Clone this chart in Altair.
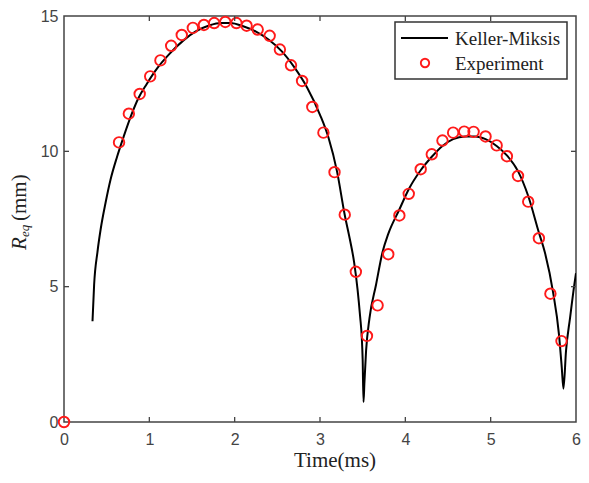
import altair as alt
import pandas as pd

# Keller-Miksis model curve (time in ms, radius in mm)
km_t = [0.334, 0.353, 0.392, 0.43, 0.487, 0.545, 0.622, 0.70, 0.795, 0.87, 0.968, 1.10,
        1.236, 1.40, 1.544, 1.70, 1.85, 1.95, 2.10, 2.25, 2.40, 2.55, 2.70, 2.85, 3.00,
        3.10, 3.20, 3.29, 3.35, 3.40, 3.44, 3.47, 3.49, 3.50, 3.51,
        3.52, 3.54, 3.58, 3.656, 3.733, 3.80, 3.93, 4.04, 4.18, 4.31, 4.435, 4.56, 4.70,
        4.82, 4.94, 5.07, 5.19, 5.32, 5.44, 5.565, 5.634, 5.73, 5.80, 5.833, 5.853,
        5.883, 5.93, 5.98, 6.00]
km_r = [3.72, 5.07, 6.28, 7.13, 8.10, 8.95, 9.80, 10.55, 11.39, 11.95, 12.48, 13.10,
        13.60, 14.10, 14.43, 14.65, 14.74, 14.74, 14.62, 14.42, 14.12, 13.70, 13.10, 12.35, 11.35,
        10.50, 9.25, 7.65, 6.75, 5.90, 4.90, 3.90, 3.10, 2.30, 0.74,
        1.42, 2.63, 3.84, 5.06, 6.28, 6.95, 7.85, 8.60, 9.30, 9.80, 10.20, 10.45, 10.55,
        10.55, 10.45, 10.20, 9.85, 9.27, 8.35, 7.00, 6.28, 4.82, 3.25, 2.02, 1.23,
        2.63, 3.84, 5.07, 5.50]

# Experimental measurements
exp_t = [0.0, 0.645, 0.76, 0.887, 1.01, 1.13, 1.256, 1.38, 1.51, 1.64, 1.76, 1.89,
         2.02, 2.14, 2.27, 2.41, 2.53, 2.66, 2.79, 2.91, 3.04, 3.17, 3.29, 3.42, 3.55,
         3.675, 3.80, 3.93, 4.04, 4.18, 4.31, 4.435, 4.56, 4.69, 4.80, 4.94, 5.07,
         5.19, 5.32, 5.44, 5.565, 5.70, 5.83]
exp_r = [0.0, 10.33, 11.39, 12.12, 12.77, 13.36, 13.90, 14.30, 14.56, 14.67, 14.74, 14.78,
         14.74, 14.64, 14.50, 14.27, 13.76, 13.18, 12.60, 11.64, 10.69, 9.23, 7.66, 5.55, 3.18,
         4.31, 6.20, 7.63, 8.43, 9.34, 9.89, 10.40, 10.69, 10.73, 10.72, 10.55, 10.22,
         9.82, 9.09, 8.14, 6.79, 4.74, 2.99]

x_ticks = [0, 1, 2, 3, 4, 5, 6]
y_ticks = [0, 5, 10, 15]
legend_labels = ["Keller-Miksis", "Experiment"]
x_title = "Time(ms)"
y_title_parts = ["R", "eq", "(mm)"]

W, H = 512, 406
FRAME = "#444444"

km = pd.DataFrame({"t": km_t, "r": km_r})
ex = pd.DataFrame({"t": exp_t, "r": exp_r})

xs = alt.Scale(domain=[0, 6], nice=False, zero=False)
ys = alt.Scale(domain=[0, 15], nice=False, zero=False)

xax = alt.Axis(values=x_ticks, ticks=False, domain=False, grid=False,
               labelFont="Liberation Sans", labelFontSize=16, labelColor="#444444",
               labelPadding=9, title=None, labelFlush=False)
yax = alt.Axis(values=y_ticks, ticks=False, domain=False, grid=False,
               labelFont="Liberation Sans", labelFontSize=16, labelColor="#444444",
               labelPadding=6, title=None, labelFlush=False)

line = alt.Chart(km).mark_line(color="black", strokeWidth=2, interpolate="monotone", clip=True).encode(
    x=alt.X("t:Q", scale=xs, axis=xax),
    y=alt.Y("r:Q", scale=ys, axis=yax),
)

pts = alt.Chart(ex).mark_point(shape="circle", filled=False, color="#ff1a1a", size=110,
                               strokeWidth=1.9, opacity=1).encode(
    x=alt.X("t:Q", scale=xs, axis=xax),
    y=alt.Y("r:Q", scale=ys, axis=yax),
)

inner_x = pd.DataFrame({"t": x_ticks[1:-1]})
inner_y = pd.DataFrame({"r": y_ticks[1:-1]})

tick_b = alt.Chart(inner_x).mark_rule(color=FRAME, strokeWidth=1.3).encode(
    x=alt.X("t:Q", scale=xs, axis=xax), y=alt.value(H), y2=alt.value(H - 5))
tick_t = alt.Chart(inner_x).mark_rule(color=FRAME, strokeWidth=1.3).encode(
    x=alt.X("t:Q", scale=xs, axis=xax), y=alt.value(0), y2=alt.value(5))
tick_l = alt.Chart(inner_y).mark_rule(color=FRAME, strokeWidth=1.3).encode(
    y=alt.Y("r:Q", scale=ys, axis=yax), x=alt.value(0), x2=alt.value(5))
tick_r = alt.Chart(inner_y).mark_rule(color=FRAME, strokeWidth=1.3).encode(
    y=alt.Y("r:Q", scale=ys, axis=yax), x=alt.value(W - 5), x2=alt.value(W))

one = pd.DataFrame({"a": [0]})

leg_box = alt.Chart(one).mark_rect(fill="white", stroke="#333333", strokeWidth=1.5).encode(
    x=alt.value(331), x2=alt.value(503), y=alt.value(6), y2=alt.value(63))
leg_line = alt.Chart(one).mark_rule(color="black", strokeWidth=2).encode(
    x=alt.value(337), x2=alt.value(384), y=alt.value(22))
leg_pt = alt.Chart(one).mark_point(shape="circle", filled=False, color="#ff1a1a", size=70,
                                   strokeWidth=1.9, opacity=1).encode(
    x=alt.value(361), y=alt.value(47))
leg_txt1 = alt.Chart(pd.DataFrame({"s": [legend_labels[0]]})).mark_text(
    font="Liberation Serif", fontSize=19, align="left", baseline="middle", color="#222222").encode(
    text="s:N", x=alt.value(391), y=alt.value(23))
leg_txt2 = alt.Chart(pd.DataFrame({"s": [legend_labels[1]]})).mark_text(
    font="Liberation Serif", fontSize=19, align="left", baseline="middle", color="#222222").encode(
    text="s:N", x=alt.value(391), y=alt.value(48))

xt = alt.Chart(pd.DataFrame({"s": [x_title]})).mark_text(
    font="Liberation Serif", fontSize=21, align="center", baseline="alphabetic", color="#222222").encode(
    text="s:N", x=alt.value(271), y=alt.value(451))

yt_r = alt.Chart(pd.DataFrame({"s": [y_title_parts[0]]})).mark_text(
    font="Liberation Serif", fontSize=21, fontStyle="italic", align="left", baseline="alphabetic",
    angle=270, color="#222222").encode(text="s:N", x=alt.value(-38), y=alt.value(234))
yt_eq = alt.Chart(pd.DataFrame({"s": [y_title_parts[1]]})).mark_text(
    font="Liberation Serif", fontSize=13, fontStyle="italic", align="left", baseline="alphabetic",
    angle=270, color="#222222").encode(text="s:N", x=alt.value(-35), y=alt.value(221))
yt_mm = alt.Chart(pd.DataFrame({"s": [y_title_parts[2]]})).mark_text(
    font="Liberation Serif", fontSize=21, align="left", baseline="alphabetic",
    angle=270, color="#222222").encode(text="s:N", x=alt.value(-38), y=alt.value(205))

chart = alt.layer(
    line, pts, tick_b, tick_t, tick_l, tick_r,
    leg_box, leg_line, leg_pt, leg_txt1, leg_txt2,
    xt, yt_r, yt_eq, yt_mm,
).properties(
    width=W, height=H,
    autosize=alt.AutoSizeParams(type="none"),
    padding={"left": 56, "top": 8, "right": 5, "bottom": 52},
    background="white",
).configure_view(stroke=FRAME, strokeWidth=1.5)

chart.save("out.html", embed_options={"renderer": "svg", "actions": False})
